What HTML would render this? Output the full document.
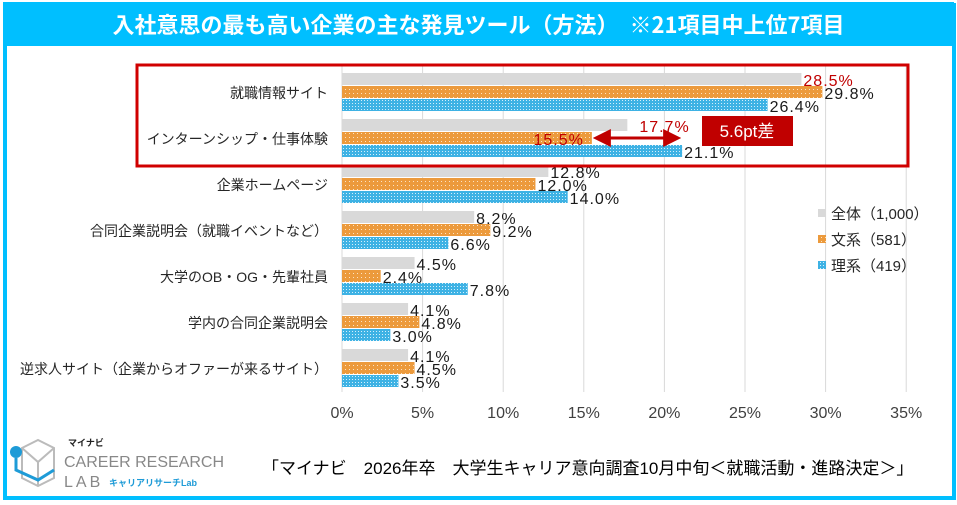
<!DOCTYPE html>
<html><head><meta charset="utf-8">
<style>
body{margin:0;width:957px;height:505px;overflow:hidden;background:#fff;font-family:"Liberation Sans","Noto Sans CJK JP",sans-serif;}
#frame{position:absolute;left:3px;top:3px;width:945px;height:493px;border:4px solid #00bfff;border-top:none;}
#title{position:absolute;left:3px;top:2px;width:951px;height:44px;background:#00bfff;color:#fff;font-size:22px;font-weight:bold;text-align:center;line-height:44px;font-family:"Noto Sans CJK JP","Liberation Sans",sans-serif;}
svg{position:absolute;left:0;top:0;}
</style></head><body>
<div id="frame"></div>
<div id="title">入社意思の最も高い企業の主な発見ツール（方法）　※21項目中上位7項目</div>
<svg id="chart" width="957" height="505">
<defs>
<pattern id="pO" width="4" height="4" patternUnits="userSpaceOnUse"><rect width="4" height="4" fill="#ec9a3c"/><rect x="1" y="1" width="1" height="1" fill="#fbe3c4"/></pattern>
<pattern id="pB" width="3" height="3" patternUnits="userSpaceOnUse"><rect width="3" height="3" fill="#3eb2e4"/><rect x="1" y="1" width="1" height="1" fill="#d4effb"/></pattern>
<marker id="ah" markerWidth="6" markerHeight="6" refX="5" refY="3" orient="auto"><path d="M0,0 L6,3 L0,6 z" fill="#c00000"/></marker>
<marker id="at" markerWidth="6" markerHeight="6" refX="1" refY="3" orient="auto"><path d="M6,0 L0,3 L6,6 z" fill="#c00000"/></marker>
</defs>
</svg>
<script>
const categories=["就職情報サイト","インターンシップ・仕事体験","企業ホームページ","合同企業説明会（就職イベントなど）","大学のOB・OG・先輩社員","学内の合同企業説明会","逆求人サイト（企業からオファーが来るサイト）"];
const seriesAll=[28.5,17.7,12.8,8.2,4.5,4.1,4.1];
const seriesBun=[29.8,15.5,12.0,9.2,2.4,4.8,4.5];
const seriesRi=[26.4,21.1,14.0,6.6,7.8,3.0,3.5];
const seriesNames=["全体（1,000）","文系（581）","理系（419）"];
const ticks=[0,5,10,15,20,25,30,35];
const NS="http://www.w3.org/2000/svg";
const svg=document.getElementById('chart');
const x0=342,pxPer=16.12,rowTop=73,rowH=46,barH=12,barGap=1;
const xs=v=>x0+v*pxPer;
const yRow=i=>rowTop+i*rowH;
function mk(tag,attrs,parent){const e=document.createElementNS(NS,tag);for(const k in attrs)e.setAttribute(k,attrs[k]);(parent||svg).appendChild(e);return e;}
ticks.forEach(t=>{
 const l=mk('line',{x1:xs(t),x2:xs(t),y1:66,y2:392,stroke:'#d9d9d9','stroke-width':1});
 
 
 const tx=mk('text',{x:xs(t),y:418,'text-anchor':'middle','font-size':16,fill:'#404040'});
 tx.textContent=t+'%';
 
 
});
const fills=['#d9d9d9','url(#pO)','url(#pB)'];
const data=[seriesAll,seriesBun,seriesRi];
categories.forEach((c,i)=>{
 const cl=mk('text',{x:328,y:yRow(i)+25,'text-anchor':'end','font-size':14,fill:'#262626'});
 cl.textContent=c;
 
 
 data.forEach((s,k)=>{
  const y=yRow(i)+k*(barH+barGap);
  const r=mk('rect',{x:x0,y:y,width:xs(s[i])-x0,height:barH,fill:fills[k]});
  
  
  let lx=xs(s[i])+2,col='#1a1a1a',anchor='start';
  if(i===0&&k===0){col='#c00000';}
  if(i===1&&k===0){col='#c00000';lx=xs(s[i])+12;}
  if(i===1&&k===1){col='#c00000';anchor='end';lx=xs(s[i])-8;}
  const vt=mk('text',{x:lx,y:y+barH/2+7,'text-anchor':anchor,'font-size':16,fill:col,'letter-spacing':'1'});
  vt.textContent=s[i].toFixed(1)+'%';
  
  
 });
});
const hb=mk('rect',{x:137,y:65,width:771,height:101,fill:'none',stroke:'#d00000','stroke-width':3});


const ar=mk('line',{x1:xs(seriesBun[1])+4,x2:xs(seriesRi[1])-4,y1:yRow(1)+19,y2:yRow(1)+19,stroke:'#c00000','stroke-width':3,'marker-end':'url(#ah)','marker-start':'url(#at)'});


const db=mk('rect',{x:702,y:116,width:91,height:30,fill:'#c00000'});


const dt=mk('text',{x:747,y:137,'text-anchor':'middle','font-size':17,fill:'#fff'});
dt.textContent='5.6pt差';


seriesNames.forEach((n,k)=>{
 const ly=214+k*26;
 const sq=mk('rect',{x:818,y:ly-5,width:8,height:8,fill:fills[k]});
 
 
 const lt=mk('text',{x:831,y:ly+5,'font-size':15,fill:'#262626'});
 lt.textContent=n;
 
 
});
const st=mk('text',{x:262,y:474,'font-size':17,fill:'#000'});
st.textContent='「マイナビ　2026年卒　大学生キャリア意向調査10月中旬＜就職活動・進路決定＞」';


const lg=mk('g',{});


mk('path',{d:'M22,448 L38,440 L54,448 L54,478 L38,486 L22,478 Z M22,448 L38,462 L54,448 M38,462 L38,486',fill:'none',stroke:'#bbb','stroke-width':2},lg);
mk('circle',{cx:16,cy:452,r:6,fill:'#1e9bd7'},lg);
mk('path',{d:'M16,458 L16,470 L38,480 L54,470',fill:'none',stroke:'#1e9bd7','stroke-width':3},lg);
const t1=mk('text',{x:68,y:446,'font-size':9,'font-weight':'bold',fill:'#222'},lg);t1.textContent='マイナビ';
const t2=mk('text',{x:64,y:467,'font-size':16,fill:'#888'},lg);t2.textContent='CAREER RESEARCH';
const t3=mk('text',{x:64,y:487,'font-size':16,fill:'#888','letter-spacing':'3'},lg);t3.textContent='LAB';
const t4=mk('text',{x:109,y:486,'font-size':9,fill:'#1e9bd7','font-weight':'bold'},lg);t4.textContent='キャリアリサーチLab';
</script>
</body></html>
